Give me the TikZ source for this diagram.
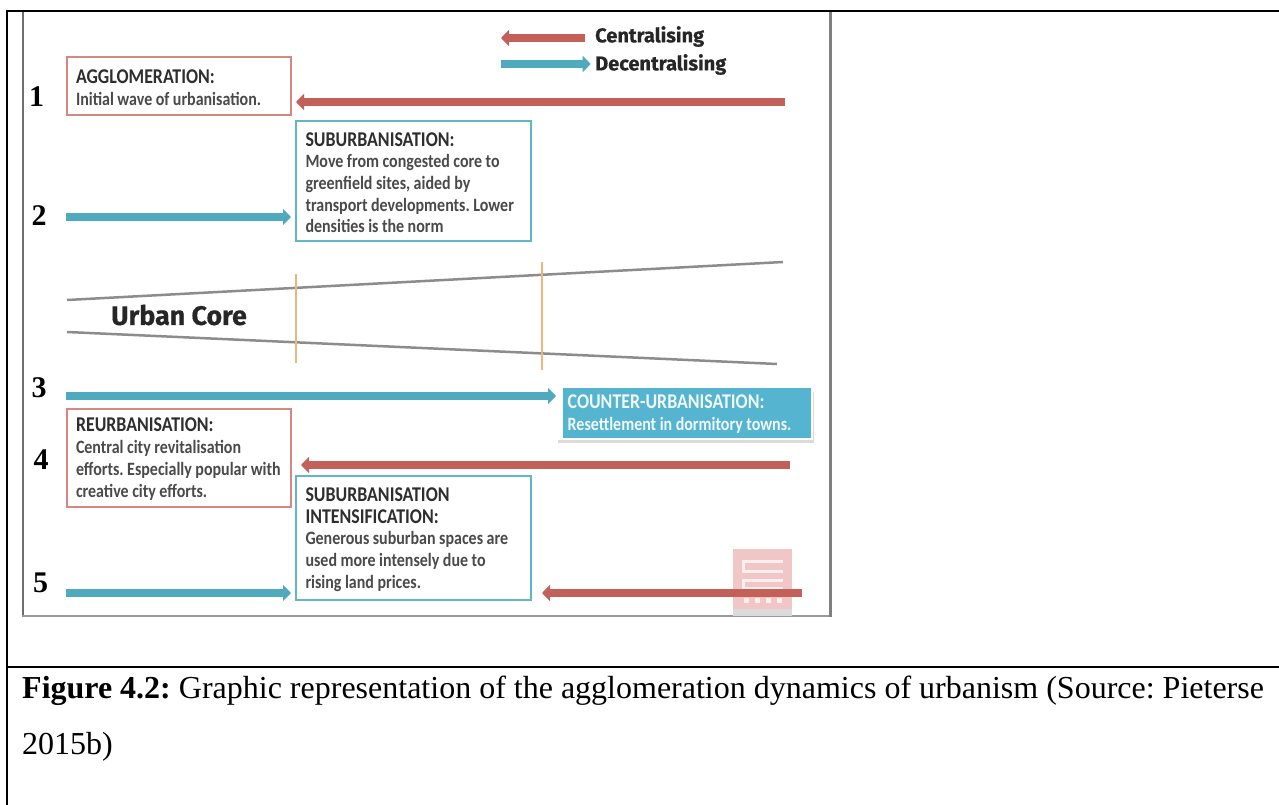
\documentclass[tikz,border=0pt]{standalone}
\usepackage{fontspec}
\setmainfont{Liberation Serif}
\newfontfamily\boxfont[FakeStretch=0.85]{Carlito}
\newfontfamily\legendfont[BoldFeatures={FakeBold=0.5}]{Fira Sans}
\usetikzlibrary{arrows.meta}
\definecolor{redbar}{HTML}{C4605A}
\definecolor{redline}{HTML}{D98581}
\definecolor{bluebar}{HTML}{4FA9BF}
\definecolor{blueline}{HTML}{62B6CC}
\definecolor{bluefill}{HTML}{55B4CF}
\definecolor{greyline}{HTML}{8C8C8C}
\definecolor{orangeline}{HTML}{F0B57C}
\definecolor{frameline}{HTML}{6E6E6E}
\definecolor{bodytext}{HTML}{4A4A4A}
\definecolor{headtext}{HTML}{2E2E2E}
\definecolor{iconpink}{HTML}{F0C6C6}
\tikzset{
  x=1pt,y=-1pt,
  tablerule/.style={line width=1.8pt,black},
  redarrow/.style={line width=8.5pt,redbar,-{Triangle[length=8pt,width=16pt]}},
  bluearrow/.style={line width=8pt,bluebar,-{Triangle[length=8pt,width=16pt]}},
  infobox/.style={draw,line width=2pt,fill=white,inner xsep=9.5pt,inner ysep=0pt,align=left,anchor=north west,font=\frenchspacing\boxfont\fontsize{18.8}{21.7}\selectfont\bfseries,text=bodytext,execute at begin node={\spaceskip=3.5pt\rule{0pt}{17pt}}},
  redbox/.style={infobox,draw=redline,text width=205.5pt},
  bluebox/.style={infobox,draw=blueline,text width=216pt},
  stepnum/.style={font=\fontsize{30}{30}\selectfont\bfseries,text=black,inner sep=0pt},
  corelimit/.style={line width=2.5pt,greyline},
  zonelimit/.style={line width=2.6pt,orangeline},
  legendtext/.style={font=\legendfont\fontsize{20}{20}\selectfont\bfseries,text=black!85,anchor=west,inner sep=0pt},
  caption/.style={font=\frenchspacing\fontsize{32}{32}\selectfont,anchor=base west,inner sep=0pt},
}
\newcommand{\hd}[1]{\textcolor{headtext}{\fontsize{21}{21.7}\selectfont #1}}
\begin{document}
\begin{tikzpicture}
\useasboundingbox (0,0) rectangle (1279,805);
\fill[white] (0,0) rectangle (1279,805);
% table rules
\draw[tablerule] (7,805) -- (7,11) -- (1279,11);
\draw[tablerule] (7,667) -- (1279,667);
% image frame
\draw[line width=2.2pt,frameline] (23,12) -- (23,616);
\draw[line width=2pt,black!40] (22,616) -- (830.5,616);
\draw[line width=2.2pt,black!50] (830.5,12) -- (830.5,617);
% core limits
\coordinate (cl1) at (67,300); \coordinate (cl2) at (783,262);
\coordinate (cl3) at (67,332); \coordinate (cl4) at (777,364);
\draw[corelimit] (cl1) -- (cl2);
\draw[corelimit] (cl3) -- (cl4);
\coordinate (z1a) at (296,274); \coordinate (z1b) at (296,363);
\coordinate (z2a) at (542,262); \coordinate (z2b) at (542,370);
\draw[zonelimit] (z1a) -- (z1b);
\draw[zonelimit] (z2a) -- (z2b);
\node[font=\legendfont\fontsize{26.8}{26.8}\selectfont\bfseries,text=black!85,inner sep=0pt] (core) at (179,315) {Urban Core};
% icon
\fill[black!14] (733,606) rectangle (792,616);
\fill[iconpink] (733,549) rectangle (792,609);
\fill[white!70!iconpink] (742,560) rectangle (783,563);
\fill[white!70!iconpink] (742,570) rectangle (783,573);
\fill[white!70!iconpink] (742,560) rectangle (745,573);
\fill[white!70!iconpink] (742,579) rectangle (783,582);
\fill[white!70!iconpink] (742,587) rectangle (783,590);
\fill[white!70!iconpink] (742,579) rectangle (745,590);
\foreach \i in {0,1,2,3} \fill[white!70!iconpink] (744+\i*11,598) rectangle (749+\i*11,603);
% legend
\coordinate (lr1) at (585,38); \coordinate (lr2) at (501,38);
\coordinate (lb1) at (501,64); \coordinate (lb2) at (590.7,64);
\draw[redarrow] (lr1) -- (lr2);
\draw[bluearrow] (lb1) -- (lb2);
\node[legendtext] (lc) at (595,36.5) {Centralising};
\node[legendtext] (ld) at (595,64.5) {Decentralising};
% boxes
\node[redbox,minimum height=58pt] (agg) at (65.5,56) {\hd{AGGLOMERATION:}\\Initial wave of urbanisation.};
\node[bluebox,minimum height=119pt] (sub) at (295,120.5) {\hd{SUBURBANISATION:}\\Move from congested core to\\greenfield sites, aided by\\\mbox{transport developments. Lower}\\densities is the norm};
\node[redbox,minimum height=98pt] (reu) at (65.5,407.5) {\hd{REURBANISATION:}\\Central city revitalisation\\\mbox{efforts. Especially popular with}\\creative city efforts.};
\node[bluebox,minimum height=124pt] (int) at (295,475) {\hd{SUBURBANISATION}\\\hd{INTENSIFICATION:}\\Generous suburban spaces are\\used more intensely due to\\rising land prices.};
\fill[black!14] (558,392) rectangle (814,443);
\fill[white] (558,388) rectangle (813,440);
\node[infobox,draw=none,fill=bluefill,text=white!92!bluefill,text width=238pt,minimum height=50pt,inner xsep=5pt] (cou) at (561.7,386.7) {{\fontsize{21}{21.7}\selectfont COUNTER-URBANISATION:}\\Resettlement in dormitory towns.};
% arrows
\coordinate (a1) at (785,102); \coordinate (a1e) at (296,102);
\coordinate (a2) at (66,217); \coordinate (a2e) at (291,217);
\coordinate (a3) at (66,396); \coordinate (a3e) at (556,396);
\coordinate (a4) at (790,465); \coordinate (a4e) at (301,465);
\coordinate (a5) at (66,593); \coordinate (a5e) at (291,593);
\coordinate (a6) at (802,593); \coordinate (a6e) at (542,593);
\draw[redarrow] (a1) -- (a1e);
\draw[bluearrow] (a2) -- (a2e);
\draw[bluearrow] (a3) -- (a3e);
\draw[redarrow] (a4) -- (a4e);
\draw[bluearrow] (a5) -- (a5e);
\draw[redarrow] (a6) -- (a6e);
% numbers
\node[stepnum] (n1) at (36.7,96.7) {1};
\node[stepnum] (n2) at (39,215.7) {2};
\node[stepnum] (n3) at (39,388) {3};
\node[stepnum] (n4) at (41,460) {4};
\node[stepnum] (n5) at (40.5,582.5) {5};
% caption
\node[caption] (cap1) at (22,698) {\textbf{Figure 4.2:} Graphic representation of the agglomeration dynamics of urbanism (Source: Pieterse};
\node[caption] (cap2) at (22,754) {2015b)};
\end{tikzpicture}
\end{document}
